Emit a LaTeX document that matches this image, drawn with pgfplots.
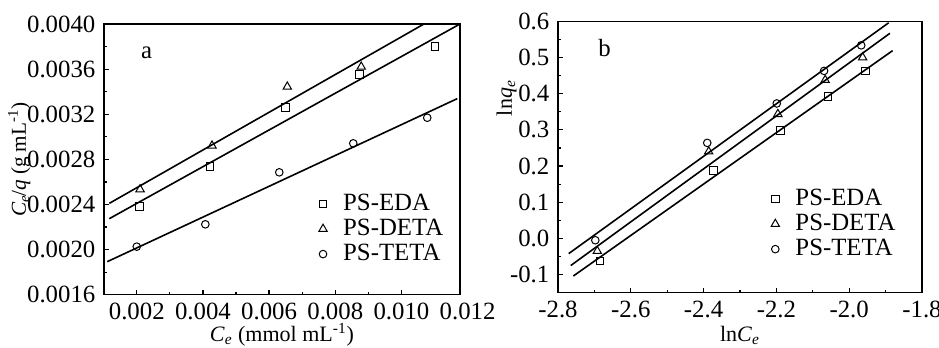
\documentclass[border=0pt]{standalone}
\usepackage{fontspec}
\setmainfont{Liberation Serif}
\usepackage{pgfplots}
\pgfplotsset{compat=1.18}
\newcommand{\fnt}{\fontsize{12.4pt}{14pt}\selectfont}
\newcommand{\lfnt}{\fontsize{11pt}{13pt}\selectfont}
\newcommand{\yfnt}{\fontsize{10.6pt}{12pt}\selectfont}
\pgfplotsset{
  mystyle/.style={
    scale only axis,
    tick pos=left,
    tick align=inside,
    major tick length=2.3pt,
    minor tick length=1.3pt,
    axis line style={line width=0.6pt},
    every tick/.style={black, line width=0.6pt},
    /pgf/number format/assume math mode=true,
    tick label style={font=\fnt},
    xticklabel style={inner sep=0pt, yshift=-4.1pt},
    label style={font=\lfnt},
    scaled ticks=false,
    clip mode=individual,
    minor x tick num=1,
    minor y tick num=1,
    legend cell align=left,
    legend style={draw=none, fill=none, font=\fnt, inner sep=0pt, column sep=6pt, row sep=-1.5pt},
  },
  fitline/.style={black, line width=0.8pt, forget plot, mark=none},
  mEDA/.style={only marks, mark=square, mark size=1.9pt, mark options={black, line width=0.5pt, fill=none}},
  mDETA/.style={only marks, mark=triangle, mark size=2.4pt, mark options={black, line width=0.5pt, fill=none}},
  mTETA/.style={only marks, mark=o, mark size=1.9pt, mark options={black, line width=0.5pt, fill=none}},
}
\begin{document}
\fnt
\begin{tikzpicture}
\begin{axis}[mystyle,
  at={(52pt,26.65pt)}, anchor=south west,
  width=178pt, height=135.35pt,
  xmin=0.00101, xmax=0.01177, ymin=0.0016, ymax=0.0040,
  xtick={0.002,0.004,0.006,0.008,0.010},
  ytick={0.0016,0.0020,0.0024,0.0028,0.0032,0.0036,0.0040},
  xticklabel style={/pgf/number format/.cd, fixed, fixed zerofill, precision=3},
  yticklabel style={/pgf/number format/.cd, fixed, fixed zerofill, precision=4},
  xlabel={\textit{C}\textsubscript{\textit{e}} (mmol mL\textsuperscript{-1})},
  ylabel={\textit{C}\textsubscript{\textit{e}}\kern-0.1em/\textit{q} (g mL\textsuperscript{-1})},
  xlabel style={at={(axis description cs:0.5,0)}, anchor=base, inner sep=0pt, yshift=-23.3pt},
  ylabel style={at={(axis description cs:-0.238,0.5)}, anchor=center, font=\yfnt},
  legend style={at={(axis description cs:0.580,0.254)}, anchor=west, xshift=4pt, yshift=-1.5pt},
]
\addplot[fitline] coordinates {(0.00117,0.002274) (0.01177,0.0040)};
\addplot[fitline] coordinates {(0.001172,0.00241) (0.01068,0.0040)};
\addplot[fitline] coordinates {(0.00111,0.001893) (0.011686,0.003338)};
\addplot[mEDA] coordinates {(0.00208,0.00238) (0.004214,0.002735) (0.006489,0.003261) (0.008725,0.00355) (0.01102,0.003799)};
\addlegendentry{PS-EDA}
\addplot[mDETA] coordinates {(0.0021,0.002534) (0.004275,0.002921) (0.00655,0.003444) (0.008785,0.003621)};
\addlegendentry{PS-DETA}
\addplot[mTETA] coordinates {(0.002,0.002026) (0.004073,0.002224) (0.006308,0.002685) (0.008544,0.002942) (0.01078,0.003169)};
\addlegendentry{PS-TETA}
\node[anchor=north, inner sep=0pt, yshift=-4.1pt, font=\fnt] at (axis cs:0.012,0.0016) {0.012};
\node[font=\fnt] at (axis description cs:0.12,0.892) {a};
\end{axis}
\begin{axis}[mystyle,
  at={(279pt,27.65pt)}, anchor=south west,
  width=182pt, height=135.7pt,
  xmin=-2.8, xmax=-1.8, ymin=-0.15, ymax=0.6,
  xtick={-2.8,-2.6,-2.4,-2.2,-2.0,-1.8},
  ytick={-0.1,0,0.1,0.2,0.3,0.4,0.5,0.6},
  xticklabel style={/pgf/number format/.cd, fixed, fixed zerofill, precision=1},
  yticklabel style={/pgf/number format/.cd, fixed, fixed zerofill, precision=1},
  xlabel={ln\textit{C}\textsubscript{\textit{e}}},
  ylabel={ln\textit{q}\textsubscript{\textit{e}}},
  xlabel style={at={(axis description cs:0.5,0)}, anchor=base, inner sep=0pt, yshift=-24.3pt},
  ylabel style={at={(axis description cs:-0.1415,0.717)}, anchor=center},
  legend style={at={(axis description cs:0.557,0.2605)}, anchor=west, xshift=5pt, yshift=-1pt},
]
\addplot[fitline] coordinates {(-2.758,-0.104) (-1.8807,0.519)};
\addplot[fitline] coordinates {(-2.765,-0.075) (-1.888,0.567)};
\addplot[fitline] coordinates {(-2.7706,-0.042) (-1.8915,0.596)};
\addplot[mEDA] coordinates {(-2.685,-0.062) (-2.373,0.1885) (-2.188,0.299) (-2.058,0.393) (-1.956,0.463)};
\addlegendentry{PS-EDA}
\addplot[mDETA] coordinates {(-2.692,-0.035) (-2.386,0.24) (-2.196,0.3435) (-2.066,0.4376) (-1.963,0.500)};
\addlegendentry{PS-DETA}
\addplot[mTETA] coordinates {(-2.6975,-0.005) (-2.390,0.264) (-2.199,0.373) (-2.069,0.463) (-1.967,0.5336)};
\addlegendentry{PS-TETA}
\node[font=\fnt] at (axis description cs:0.128,0.9005) {b};
\end{axis}
\pgfresetboundingbox
\useasboundingbox (0,0) rectangle (469.5pt,174pt);
\end{tikzpicture}
\end{document}
